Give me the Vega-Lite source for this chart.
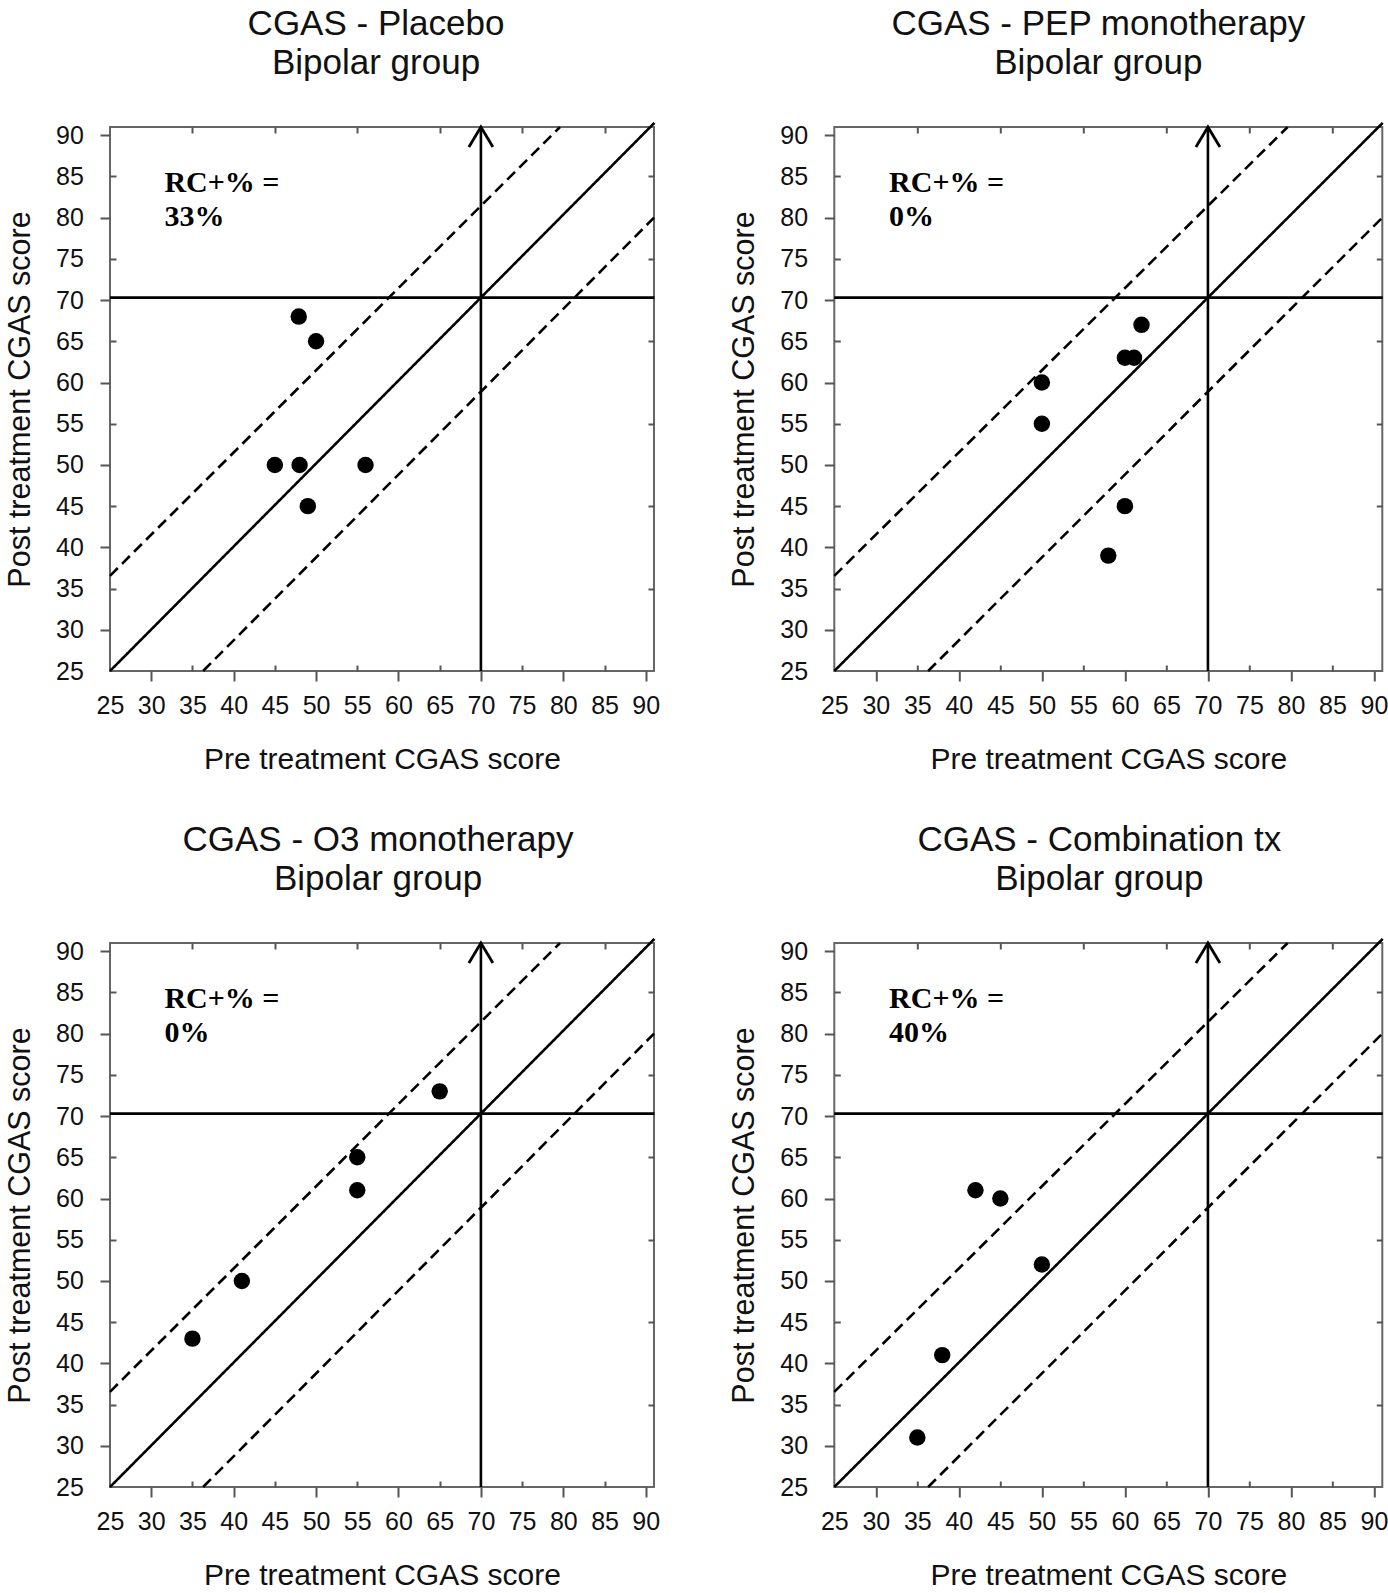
{
  "$schema": "https://vega.github.io/schema/vega-lite/v6.json",
  "padding": {"left": 4, "top": 5, "right": 5, "bottom": 5},
  "autosize": {"type": "pad"},
  "datasets": {
    "pts": [
      {"panel": "Placebo", "pre": 47.9, "post": 68},
      {"panel": "Placebo", "pre": 50, "post": 65},
      {"panel": "Placebo", "pre": 45, "post": 50},
      {"panel": "Placebo", "pre": 48, "post": 50},
      {"panel": "Placebo", "pre": 56, "post": 50},
      {"panel": "Placebo", "pre": 49, "post": 45},
      {"panel": "PEP", "pre": 62, "post": 67},
      {"panel": "PEP", "pre": 60, "post": 63},
      {"panel": "PEP", "pre": 61.1, "post": 63},
      {"panel": "PEP", "pre": 50, "post": 60},
      {"panel": "PEP", "pre": 50, "post": 55},
      {"panel": "PEP", "pre": 60, "post": 45},
      {"panel": "PEP", "pre": 58, "post": 39},
      {"panel": "O3", "pre": 65, "post": 73},
      {"panel": "O3", "pre": 55, "post": 65},
      {"panel": "O3", "pre": 55, "post": 61},
      {"panel": "O3", "pre": 41, "post": 50},
      {"panel": "O3", "pre": 35, "post": 43},
      {"panel": "Combo", "pre": 42, "post": 61},
      {"panel": "Combo", "pre": 45, "post": 60},
      {"panel": "Combo", "pre": 50, "post": 52},
      {"panel": "Combo", "pre": 38, "post": 41},
      {"panel": "Combo", "pre": 35, "post": 31}
    ],
    "notes": [
      {"panel": "Placebo", "x": 31.6, "y": 83.1, "t": "RC+% ="},
      {"panel": "Placebo", "x": 31.6, "y": 79.0, "t": "33%"},
      {"panel": "PEP", "x": 31.6, "y": 83.1, "t": "RC+% ="},
      {"panel": "PEP", "x": 31.6, "y": 79.0, "t": "0%"},
      {"panel": "O3", "x": 31.6, "y": 83.1, "t": "RC+% ="},
      {"panel": "O3", "x": 31.6, "y": 79.0, "t": "0%"},
      {"panel": "Combo", "x": 31.6, "y": 83.1, "t": "RC+% ="},
      {"panel": "Combo", "x": 31.6, "y": 79.0, "t": "40%"}
    ],
    "guides": [
      {"x": 25, "y": 25, "x2": 91.05, "y2": 91.5, "kind": "solid"},
      {"x": 25, "y": 70.3, "x2": 91.05, "y2": 70.3, "kind": "solid"},
      {"x": 70, "y": 25, "x2": 70, "y2": 91, "kind": "solid"},
      {"x": 25, "y": 36.55, "x2": 79.6, "y2": 91, "kind": "dashed"},
      {"x": 36.3, "y": 25, "x2": 91, "y2": 80, "kind": "dashed"}
    ],
    "arrow": [{"ax": 70, "ay": 91}]
  },
  "config": {
    "view": {"stroke": "#666", "strokeWidth": 2},
    "axis": {
      "domain": false, "grid": false,
      "labelFont": "Liberation Sans", "labelFontSize": 25, "labelColor": "#111",
      "titleFont": "Liberation Sans", "titleFontSize": 30, "titleFontWeight": "normal", "titleColor": "#111",
      "tickColor": "#555", "tickWidth": 2, "labelFlush": false, "labelOverlap": false
    },
    "title": {"font": "Liberation Sans", "fontSize": 35, "fontWeight": "normal", "color": "#111", "lineHeight": 39, "anchor": "middle", "frame": "group", "offset": 40.5, "dx": -7}
  },
  "columns": 2,
  "spacing": {"row": 272, "column": 180.3},
  "bounds": "flush",
  "concat": [
    {
      "width": 544, "height": 544,
      "title": {"text": ["CGAS - Placebo", "Bipolar group"], "dx": -6},
      "resolve": {"axis": {"x": "independent", "y": "independent"}},
      "layer": [
        {
          "data": {"name": "guides"},
          "mark": {"type": "rule", "color": "#000", "strokeWidth": 2.6},
          "encoding": {
            "x": {"field": "x", "type": "quantitative", "scale": {"domain": [25, 91], "nice": false, "zero": false}, "axis": {"orient": "bottom", "values": [25,30,35,40,45,50,55,60,65,70,75,80,85,90], "ticks": false, "labelPadding": 22, "title": "Pre treatment CGAS score", "titlePadding": 26}},
            "y": {"field": "y", "type": "quantitative", "scale": {"domain": [25, 91], "nice": false, "zero": false}, "axis": {"orient": "left", "values": [25,30,35,40,45,50,55,60,65,70,75,80,85,90], "ticks": false, "labelPadding": 26.7, "title": "Post treatment CGAS score", "titlePadding": 20, "titleFontSize": 30.5}},
            "x2": {"field": "x2"}, "y2": {"field": "y2"},
            "strokeDash": {"field": "kind", "type": "nominal", "scale": {"domain": ["solid", "dashed"], "range": [[1, 0], [11, 6]]}, "legend": null}
          }
        },
        {
          "data": {"name": "pts"},
          "transform": [{"filter": "datum.panel === 'Placebo'"}],
          "mark": {"type": "point", "filled": true, "color": "#000", "size": 270, "opacity": 1, "shape": "circle"},
          "encoding": {
            "x": {"field": "pre", "type": "quantitative", "scale": {"domain": [25, 91], "nice": false, "zero": false}, "axis": {"orient": "bottom", "values": [30,40,50,60,70,80,90], "labels": false, "tickSize": 10, "title": null}},
            "y": {"field": "post", "type": "quantitative", "scale": {"domain": [25, 91], "nice": false, "zero": false}, "axis": {"orient": "left", "values": [30,40,50,60,70,80,90], "labels": false, "tickSize": 10, "title": null}}
          }
        },
        {
          "data": {"name": "arrow"},
          "mark": {"type": "point", "shape": "M -1 1.67 L 0 0 L 1 1.67", "filled": false, "stroke": "#000", "strokeWidth": 2.8, "size": 576, "opacity": 1},
          "encoding": {
            "x": {"field": "ax", "type": "quantitative", "scale": {"domain": [25, 91], "nice": false, "zero": false}, "axis": {"orient": "bottom", "values": [35,45,55,65,75,85], "labels": false, "tickSize": 6, "offset": -6, "title": null}},
            "y": {"field": "ay", "type": "quantitative", "scale": {"domain": [25, 91], "nice": false, "zero": false}, "axis": {"orient": "left", "values": [35,45,55,65,75,85], "labels": false, "tickSize": 6, "offset": -6, "title": null}}
          }
        },
        {
          "data": {"name": "notes"},
          "transform": [{"filter": "datum.panel === 'Placebo'"}],
          "mark": {"type": "text", "font": "Liberation Serif", "fontSize": 30, "fontWeight": "bold", "align": "left", "baseline": "alphabetic", "color": "#000"},
          "encoding": {
            "x": {"field": "x", "type": "quantitative", "scale": {"domain": [25, 91], "nice": false, "zero": false}, "axis": {"orient": "top", "values": [35,45,55,65,75,85], "labels": false, "tickSize": 6, "offset": -6, "title": null}},
            "y": {"field": "y", "type": "quantitative", "scale": {"domain": [25, 91], "nice": false, "zero": false}, "axis": {"orient": "right", "values": [35,45,55,65,75,85], "labels": false, "tickSize": 6, "offset": -6, "title": null}},
            "text": {"field": "t"}
          }
        }
      ]
    },
    {
      "width": 548, "height": 544,
      "title": {"text": ["CGAS - PEP monotherapy", "Bipolar group"], "dx": -10},
      "resolve": {"axis": {"x": "independent", "y": "independent"}},
      "layer": [
        {
          "data": {"name": "guides"},
          "mark": {"type": "rule", "color": "#000", "strokeWidth": 2.6},
          "encoding": {
            "x": {"field": "x", "type": "quantitative", "scale": {"domain": [25, 91], "nice": false, "zero": false}, "axis": {"orient": "bottom", "values": [25,30,35,40,45,50,55,60,65,70,75,80,85,90], "ticks": false, "labelPadding": 22, "title": "Pre treatment CGAS score", "titlePadding": 26}},
            "y": {"field": "y", "type": "quantitative", "scale": {"domain": [25, 91], "nice": false, "zero": false}, "axis": {"orient": "left", "values": [25,30,35,40,45,50,55,60,65,70,75,80,85,90], "ticks": false, "labelPadding": 26.7, "title": "Post treatment CGAS score", "titlePadding": 20, "titleFontSize": 30.5}},
            "x2": {"field": "x2"}, "y2": {"field": "y2"},
            "strokeDash": {"field": "kind", "type": "nominal", "scale": {"domain": ["solid", "dashed"], "range": [[1, 0], [11, 6]]}, "legend": null}
          }
        },
        {
          "data": {"name": "pts"},
          "transform": [{"filter": "datum.panel === 'PEP'"}],
          "mark": {"type": "point", "filled": true, "color": "#000", "size": 270, "opacity": 1, "shape": "circle"},
          "encoding": {
            "x": {"field": "pre", "type": "quantitative", "scale": {"domain": [25, 91], "nice": false, "zero": false}, "axis": {"orient": "bottom", "values": [30,40,50,60,70,80,90], "labels": false, "tickSize": 10, "title": null}},
            "y": {"field": "post", "type": "quantitative", "scale": {"domain": [25, 91], "nice": false, "zero": false}, "axis": {"orient": "left", "values": [30,40,50,60,70,80,90], "labels": false, "tickSize": 10, "title": null}}
          }
        },
        {
          "data": {"name": "arrow"},
          "mark": {"type": "point", "shape": "M -1 1.67 L 0 0 L 1 1.67", "filled": false, "stroke": "#000", "strokeWidth": 2.8, "size": 576, "opacity": 1},
          "encoding": {
            "x": {"field": "ax", "type": "quantitative", "scale": {"domain": [25, 91], "nice": false, "zero": false}, "axis": {"orient": "bottom", "values": [35,45,55,65,75,85], "labels": false, "tickSize": 6, "offset": -6, "title": null}},
            "y": {"field": "ay", "type": "quantitative", "scale": {"domain": [25, 91], "nice": false, "zero": false}, "axis": {"orient": "left", "values": [35,45,55,65,75,85], "labels": false, "tickSize": 6, "offset": -6, "title": null}}
          }
        },
        {
          "data": {"name": "notes"},
          "transform": [{"filter": "datum.panel === 'PEP'"}],
          "mark": {"type": "text", "font": "Liberation Serif", "fontSize": 30, "fontWeight": "bold", "align": "left", "baseline": "alphabetic", "color": "#000"},
          "encoding": {
            "x": {"field": "x", "type": "quantitative", "scale": {"domain": [25, 91], "nice": false, "zero": false}, "axis": {"orient": "top", "values": [35,45,55,65,75,85], "labels": false, "tickSize": 6, "offset": -6, "title": null}},
            "y": {"field": "y", "type": "quantitative", "scale": {"domain": [25, 91], "nice": false, "zero": false}, "axis": {"orient": "right", "values": [35,45,55,65,75,85], "labels": false, "tickSize": 6, "offset": -6, "title": null}},
            "text": {"field": "t"}
          }
        }
      ]
    },
    {
      "width": 544, "height": 544,
      "title": {"text": ["CGAS - O3 monotherapy", "Bipolar group"], "dx": -4},
      "resolve": {"axis": {"x": "independent", "y": "independent"}},
      "layer": [
        {
          "data": {"name": "guides"},
          "mark": {"type": "rule", "color": "#000", "strokeWidth": 2.6},
          "encoding": {
            "x": {"field": "x", "type": "quantitative", "scale": {"domain": [25, 91], "nice": false, "zero": false}, "axis": {"orient": "bottom", "values": [25,30,35,40,45,50,55,60,65,70,75,80,85,90], "ticks": false, "labelPadding": 22, "title": "Pre treatment CGAS score", "titlePadding": 26}},
            "y": {"field": "y", "type": "quantitative", "scale": {"domain": [25, 91], "nice": false, "zero": false}, "axis": {"orient": "left", "values": [25,30,35,40,45,50,55,60,65,70,75,80,85,90], "ticks": false, "labelPadding": 26.7, "title": "Post treatment CGAS score", "titlePadding": 20, "titleFontSize": 30.5}},
            "x2": {"field": "x2"}, "y2": {"field": "y2"},
            "strokeDash": {"field": "kind", "type": "nominal", "scale": {"domain": ["solid", "dashed"], "range": [[1, 0], [11, 6]]}, "legend": null}
          }
        },
        {
          "data": {"name": "pts"},
          "transform": [{"filter": "datum.panel === 'O3'"}],
          "mark": {"type": "point", "filled": true, "color": "#000", "size": 270, "opacity": 1, "shape": "circle"},
          "encoding": {
            "x": {"field": "pre", "type": "quantitative", "scale": {"domain": [25, 91], "nice": false, "zero": false}, "axis": {"orient": "bottom", "values": [30,40,50,60,70,80,90], "labels": false, "tickSize": 10, "title": null}},
            "y": {"field": "post", "type": "quantitative", "scale": {"domain": [25, 91], "nice": false, "zero": false}, "axis": {"orient": "left", "values": [30,40,50,60,70,80,90], "labels": false, "tickSize": 10, "title": null}}
          }
        },
        {
          "data": {"name": "arrow"},
          "mark": {"type": "point", "shape": "M -1 1.67 L 0 0 L 1 1.67", "filled": false, "stroke": "#000", "strokeWidth": 2.8, "size": 576, "opacity": 1},
          "encoding": {
            "x": {"field": "ax", "type": "quantitative", "scale": {"domain": [25, 91], "nice": false, "zero": false}, "axis": {"orient": "bottom", "values": [35,45,55,65,75,85], "labels": false, "tickSize": 6, "offset": -6, "title": null}},
            "y": {"field": "ay", "type": "quantitative", "scale": {"domain": [25, 91], "nice": false, "zero": false}, "axis": {"orient": "left", "values": [35,45,55,65,75,85], "labels": false, "tickSize": 6, "offset": -6, "title": null}}
          }
        },
        {
          "data": {"name": "notes"},
          "transform": [{"filter": "datum.panel === 'O3'"}],
          "mark": {"type": "text", "font": "Liberation Serif", "fontSize": 30, "fontWeight": "bold", "align": "left", "baseline": "alphabetic", "color": "#000"},
          "encoding": {
            "x": {"field": "x", "type": "quantitative", "scale": {"domain": [25, 91], "nice": false, "zero": false}, "axis": {"orient": "top", "values": [35,45,55,65,75,85], "labels": false, "tickSize": 6, "offset": -6, "title": null}},
            "y": {"field": "y", "type": "quantitative", "scale": {"domain": [25, 91], "nice": false, "zero": false}, "axis": {"orient": "right", "values": [35,45,55,65,75,85], "labels": false, "tickSize": 6, "offset": -6, "title": null}},
            "text": {"field": "t"}
          }
        }
      ]
    },
    {
      "width": 548, "height": 544,
      "title": {"text": ["CGAS - Combination tx", "Bipolar group"], "dx": -9},
      "resolve": {"axis": {"x": "independent", "y": "independent"}},
      "layer": [
        {
          "data": {"name": "guides"},
          "mark": {"type": "rule", "color": "#000", "strokeWidth": 2.6},
          "encoding": {
            "x": {"field": "x", "type": "quantitative", "scale": {"domain": [25, 91], "nice": false, "zero": false}, "axis": {"orient": "bottom", "values": [25,30,35,40,45,50,55,60,65,70,75,80,85,90], "ticks": false, "labelPadding": 22, "title": "Pre treatment CGAS score", "titlePadding": 26}},
            "y": {"field": "y", "type": "quantitative", "scale": {"domain": [25, 91], "nice": false, "zero": false}, "axis": {"orient": "left", "values": [25,30,35,40,45,50,55,60,65,70,75,80,85,90], "ticks": false, "labelPadding": 26.7, "title": "Post treatment CGAS score", "titlePadding": 20, "titleFontSize": 30.5}},
            "x2": {"field": "x2"}, "y2": {"field": "y2"},
            "strokeDash": {"field": "kind", "type": "nominal", "scale": {"domain": ["solid", "dashed"], "range": [[1, 0], [11, 6]]}, "legend": null}
          }
        },
        {
          "data": {"name": "pts"},
          "transform": [{"filter": "datum.panel === 'Combo'"}],
          "mark": {"type": "point", "filled": true, "color": "#000", "size": 270, "opacity": 1, "shape": "circle"},
          "encoding": {
            "x": {"field": "pre", "type": "quantitative", "scale": {"domain": [25, 91], "nice": false, "zero": false}, "axis": {"orient": "bottom", "values": [30,40,50,60,70,80,90], "labels": false, "tickSize": 10, "title": null}},
            "y": {"field": "post", "type": "quantitative", "scale": {"domain": [25, 91], "nice": false, "zero": false}, "axis": {"orient": "left", "values": [30,40,50,60,70,80,90], "labels": false, "tickSize": 10, "title": null}}
          }
        },
        {
          "data": {"name": "arrow"},
          "mark": {"type": "point", "shape": "M -1 1.67 L 0 0 L 1 1.67", "filled": false, "stroke": "#000", "strokeWidth": 2.8, "size": 576, "opacity": 1},
          "encoding": {
            "x": {"field": "ax", "type": "quantitative", "scale": {"domain": [25, 91], "nice": false, "zero": false}, "axis": {"orient": "bottom", "values": [35,45,55,65,75,85], "labels": false, "tickSize": 6, "offset": -6, "title": null}},
            "y": {"field": "ay", "type": "quantitative", "scale": {"domain": [25, 91], "nice": false, "zero": false}, "axis": {"orient": "left", "values": [35,45,55,65,75,85], "labels": false, "tickSize": 6, "offset": -6, "title": null}}
          }
        },
        {
          "data": {"name": "notes"},
          "transform": [{"filter": "datum.panel === 'Combo'"}],
          "mark": {"type": "text", "font": "Liberation Serif", "fontSize": 30, "fontWeight": "bold", "align": "left", "baseline": "alphabetic", "color": "#000"},
          "encoding": {
            "x": {"field": "x", "type": "quantitative", "scale": {"domain": [25, 91], "nice": false, "zero": false}, "axis": {"orient": "top", "values": [35,45,55,65,75,85], "labels": false, "tickSize": 6, "offset": -6, "title": null}},
            "y": {"field": "y", "type": "quantitative", "scale": {"domain": [25, 91], "nice": false, "zero": false}, "axis": {"orient": "right", "values": [35,45,55,65,75,85], "labels": false, "tickSize": 6, "offset": -6, "title": null}},
            "text": {"field": "t"}
          }
        }
      ]
    }
  ]
}
